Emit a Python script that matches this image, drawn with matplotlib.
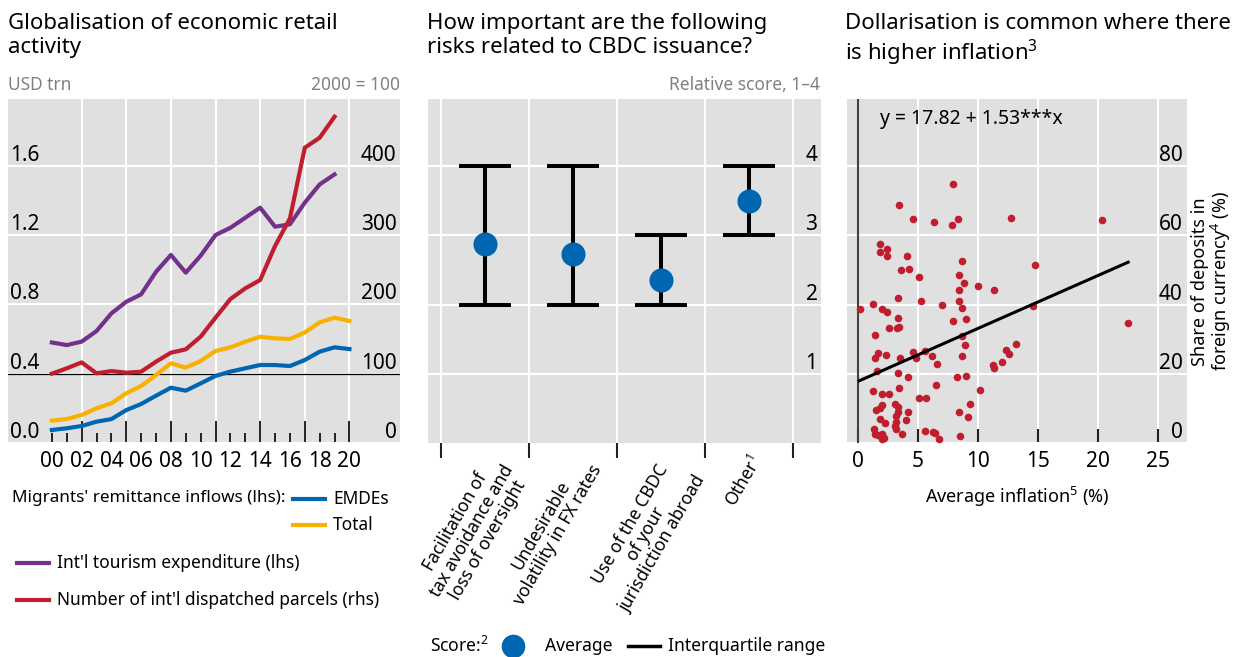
import numpy as np
import matplotlib
matplotlib.use("Agg")
import matplotlib.pyplot as plt
from matplotlib.lines import Line2D

plt.rcParams['font.family'] = ['Noto Sans', 'DejaVu Sans']
plt.rcParams['mathtext.fontset'] = 'custom'
plt.rcParams['mathtext.rm'] = 'Noto Sans'
plt.rcParams['mathtext.it'] = 'Noto Sans:italic'

# panel 1: globalisation of retail activity
years = np.arange(2000, 2021)
tourism = [0.58, 0.565, 0.585, 0.646, 0.748, 0.815, 0.858, 0.988, 1.085, 0.983,
           1.081, 1.20, 1.242, 1.30, 1.358, 1.248, 1.262, 1.387, 1.492, 1.55]
parcels = [100, 107.7, 116.3, 100.5, 103.8, 101.4, 102.9, 117.3, 130.3, 135.1,
           153.4, 180.8, 207.7, 223.1, 235.1, 284.1, 324.0, 426.0, 440.4, 470.7]
remit_total = [0.129, 0.138, 0.162, 0.20, 0.229, 0.287, 0.329, 0.392, 0.46, 0.435,
               0.473, 0.531, 0.552, 0.585, 0.613, 0.604, 0.60, 0.638, 0.696, 0.723, 0.704]
remit_emde = [0.075, 0.085, 0.098, 0.123, 0.138, 0.19, 0.225, 0.273, 0.319, 0.302,
              0.344, 0.387, 0.412, 0.431, 0.45, 0.45, 0.444, 0.479, 0.527, 0.552, 0.542]
grid_years = [2002, 2005, 2008, 2011, 2014, 2017, 2020]

# panel 2: CBDC risks
risks = ["Facilitation of\ntax avoidance and\nloss of oversight",
         "Undesirable\nvolatility in FX rates",
         "Use of the CBDC\nof your\njurisdiction abroad",
         "Other$^{\\mathit{1}}$"]
score_avg = [2.88, 2.73, 2.35, 3.50]
score_q1 = [2, 2, 2, 3]
score_q3 = [4, 4, 3, 4]

# panel 3: dollarisation vs inflation
infl = [7.95, 3.43, 4.57, 6.3, 7.83, 8.32, 12.73, 20.35,
        1.84, 2.4, 1.8, 2.4, 4.05, 8.62, 3.56, 4.26, 5.08, 14.77, 8.37, 8.82, 9.95, 8.45, 11.36,
        3.36, 5.25, 8.45, 1.28, 6.98, 14.61, 8.7, 0.14, 1.98, 2.41,
        3.34, 8.98, 7.9, 22.45, 2.55, 3.22, 3.43, 1.42,
        8.66, 8.9, 13.15, 12.34, 12.55,
        4.55, 5.6, 1.66, 1.42, 2.34, 3.5, 4.82, 6.2, 8.7,
        6.57, 11.98, 11.27, 11.29,
        1.57, 3.36, 4.12, 8.25, 9.0,
        6.53, 3.44, 10.14, 1.28, 1.97, 2.55,
        5.05, 5.7,
        3.1, 3.3, 3.35, 3.2,
        1.97, 1.83, 1.5,
        4.15, 9.35, 8.42, 9.2,
        1.85, 2.25, 3.2, 3.1, 4.0,
        1.3, 1.42, 1.7, 1.97, 2.2, 2.0,
        3.14, 3.65, 5.55, 6.25, 6.4, 6.72, 8.5]
dep = [74.9, 68.8, 64.6, 64.0, 63.0, 64.6, 65.0, 64.4,
       57.6, 56.1, 55.1, 54.1, 54.0, 52.6, 49.9, 50.3, 48.1, 51.3, 48.4, 46.1, 45.5, 44.2, 44.1,
       41.9, 41.1, 40.9, 40.2, 39.9, 39.7, 39.0, 38.6, 38.8, 37.9,
       36.0, 35.8, 35.2, 34.8, 33.2, 33.3, 33.6, 31.2,
       30.8, 28.4, 28.6, 26.9, 25.7,
       26.2, 26.5, 26.1, 24.5, 25.4, 24.5, 24.5, 25.2, 25.1,
       22.8, 23.3, 22.4, 21.7,
       20.7, 20.3, 19.0, 19.0, 19.3,
       16.7, 15.8, 15.3, 14.9, 14.3, 14.3,
       13.0, 13.1,
       11.4, 10.4, 8.9, 7.9,
       10.9, 10.2, 9.6,
       9.1, 11.2, 9.0, 7.4,
       7.0, 5.7, 6.2, 5.0, 6.7,
       4.1, 2.6, 2.3, 2.6, 1.5, 1.1,
       4.0, 2.5, 3.6, 3.3, 2.9, 1.3, 2.0]
fit_intercept = 17.82
fit_slope = 1.53
fit_range = [0.1, 22.5]

# colours
bg = '#e0e0e0'
blue = '#0066b1'
yellow = '#f8b100'
purple = '#74318c'
red = '#bf1e2e'
grey = '#808080'

W, H = 1234, 657
fig = plt.figure(figsize=(W / 100, H / 100), dpi=100)


def rect(x0, x1, y0, y1):
    return [x0 / W, 1 - y1 / H, (x1 - x0) / W, (y1 - y0) / H]


def strip(ax):
    for s in ax.spines.values():
        s.set_visible(False)


# ---- panel 1 ----
ax1 = fig.add_axes(rect(8, 400, 99, 443))
ax1.set_facecolor(bg)
strip(ax1)
ax1.set_xlim(1997.05, 2023.4)
ax1.set_ylim(0, 1.985)
ax1.set_axisbelow(True)
ax1.plot(years[:len(tourism)], tourism, color=purple, lw=3)
ax1.plot(years, remit_total, color=yellow, lw=3)
ax1.plot(years, remit_emde, color=blue, lw=3)
ax1.axhline(0.4, color='black', lw=0.9, zorder=1.5)
ax1.set_yticks([0, 0.4, 0.8, 1.2, 1.6], labels=['0.0', '0.4', '0.8', '1.2', '1.6'],
               ha='left', va='bottom')
ax1.tick_params(axis='y', length=0, pad=-1.5, labelsize=15)
ax1.grid(axis='y', color='white', lw=1.5)
ax1.xaxis.remove_overlapping_locs = False
ax1.set_xticks(years, labels=[f"{y % 100:02d}" if y % 2 == 0 else "" for y in years])
ax1.set_xticks(grid_years, minor=True)
ax1.tick_params(axis='x', which='major', direction='in', length=7, width=1.2, pad=6, labelsize=15)
ax1.tick_params(axis='x', which='minor', direction='in', length=16, width=1.2)
ax1.grid(axis='x', which='minor', color='white', lw=1.5)
ax1.grid(axis='x', which='major', visible=False)

ax1r = ax1.twinx()
strip(ax1r)
ax1r.set_ylim(0, 1.985 * 250)
ax1r.plot(years[:len(parcels)], parcels, color=red, lw=3)
ax1r.set_yticks([0, 100, 200, 300, 400], labels=['0', '100', '200', '300', '400'],
                ha='right', va='bottom')
ax1r.tick_params(axis='y', length=0, pad=-2.5, labelsize=15)

fig.text(8 / W, 1 - 85 / H, "USD trn", color=grey, fontsize=12.5, va='center')
fig.text(400 / W, 1 - 85 / H, "2000 = 100", color=grey, fontsize=12.5, va='center', ha='right')
fig.text(8 / W, 1 - 13 / H, "Globalisation of economic retail\nactivity", fontsize=16,
         va='top', linespacing=1.16)

# legend panel 1
fig.text(12 / W, 1 - 498 / H, "Migrants' remittance inflows (lhs):", fontsize=12.3, va='center')
leg1 = [(293, 499, blue, "EMDEs"), (293, 525, yellow, "Total"),
        (17, 563, purple, "Int'l tourism expenditure (lhs)"),
        (17, 600, red, "Number of int'l dispatched parcels (rhs)")]
for x0, y0, c, lab in leg1:
    fig.add_artist(Line2D([x0 / W, (x0 + 32) / W], [1 - y0 / H] * 2, color=c, lw=3))
    fig.text((x0 + 40) / W, 1 - y0 / H, lab, fontsize=12.5, va='center')

# ---- panel 2 ----
ax2 = fig.add_axes(rect(428, 821, 99, 443))
ax2.set_facecolor(bg)
strip(ax2)
ax2.set_xlim(-0.65, 3.82)
ax2.set_ylim(0, 4.97)
ax2.set_axisbelow(True)
xs = np.arange(len(risks))
avg = np.array(score_avg)
ax2.errorbar(xs, avg, yerr=[avg - np.array(score_q1), np.array(score_q3) - avg], fmt='none',
             ecolor='black', elinewidth=2.9, capsize=19, capthick=2.9, zorder=2)
ax2.scatter(xs, avg, s=300, color=blue, zorder=3, lw=0)
ax2.yaxis.tick_right()
ax2.set_yticks([1, 2, 3, 4], labels=['1', '2', '3', '4'], ha='right', va='bottom')
ax2.tick_params(axis='y', length=0, pad=-2.5, labelsize=15)
ax2.grid(axis='y', color='white', lw=1.5)
ax2.set_xticks(xs, labels=risks, rotation=60, ha='right', rotation_mode='anchor',
               multialignment='center', linespacing=1.05)
ax2.set_xticks([-0.5, 0.5, 1.5, 2.5, 3.5], minor=True)
ax2.tick_params(axis='x', which='major', length=0, pad=7, labelsize=12.6)
ax2.tick_params(axis='x', which='minor', direction='out', length=11, width=1.5, color='#222222')
ax2.grid(axis='x', which='minor', color='white', lw=1.5)

fig.text(820 / W, 1 - 85 / H, "Relative score, 1–4", color=grey, fontsize=12.5, va='center', ha='right')
fig.text(427 / W, 1 - 13 / H, "How important are the following\nrisks related to CBDC issuance?",
         fontsize=16, va='top', linespacing=1.16)

# legend panel 2
fig.text(430 / W, 1 - 646 / H, "Score:$^{2}$", fontsize=12.6, va='center')
fig.add_artist(Line2D([513 / W], [1 - 646 / H], marker='o', ms=16, color=blue, lw=0))
fig.text(545 / W, 1 - 646 / H, "Average", fontsize=12.6, va='center')
fig.add_artist(Line2D([628 / W, 660 / W], [1 - 646 / H] * 2, color='black', lw=2.5))
fig.text(668 / W, 1 - 646 / H, "Interquartile range", fontsize=12.6, va='center')

# ---- panel 3 ----
ax3 = fig.add_axes(rect(847, 1187, 99, 443))
ax3.set_facecolor(bg)
strip(ax3)
ax3.set_xlim(-0.92, 27.4)
ax3.set_ylim(0, 99.4)
ax3.set_axisbelow(True)
ax3.axvline(0, color='#404040', lw=1.5, zorder=1.5)
ax3.scatter(infl, dep, s=30, color=red, lw=0, zorder=3)
fx = np.array(fit_range)
ax3.plot(fx, fit_intercept + fit_slope * fx, color='black', lw=2.2, zorder=4)
ax3.set_xticks([0, 5, 10, 15, 20, 25], labels=['0', '5', '10', '15', '20', '25'])
ax3.tick_params(axis='x', direction='in', length=10, width=1.5, color='#222222', pad=6, labelsize=15)
ax3.grid(axis='x', color='white', lw=1.5)
ax3.yaxis.tick_right()
ax3.set_yticks([0, 20, 40, 60, 80], labels=['0', '20', '40', '60', '80'], ha='right', va='bottom')
ax3.tick_params(axis='y', length=0, pad=-3, labelsize=15)
ax3.grid(axis='y', color='white', lw=1.5)
ax3.text(1.83, 93.6, "y = 17.82 + 1.53***x", fontsize=14, va='center')
ax3.set_xlabel("Average inflation$^{5}$ (%)", fontsize=13, labelpad=9)
ax3.text(1 + 25 / 340, 0.47, "Share of deposits in\nforeign currency$^{4}$ (%)", transform=ax3.transAxes,
         rotation=90, ha='center', va='center', fontsize=13, multialignment='center', linespacing=1.0)
fig.text(845 / W, 1 - 13 / H, "Dollarisation is common where there\nis higher inflation$^{3}$",
         fontsize=16, va='top', linespacing=1.16)

fig.savefig("out.png", dpi=100)
